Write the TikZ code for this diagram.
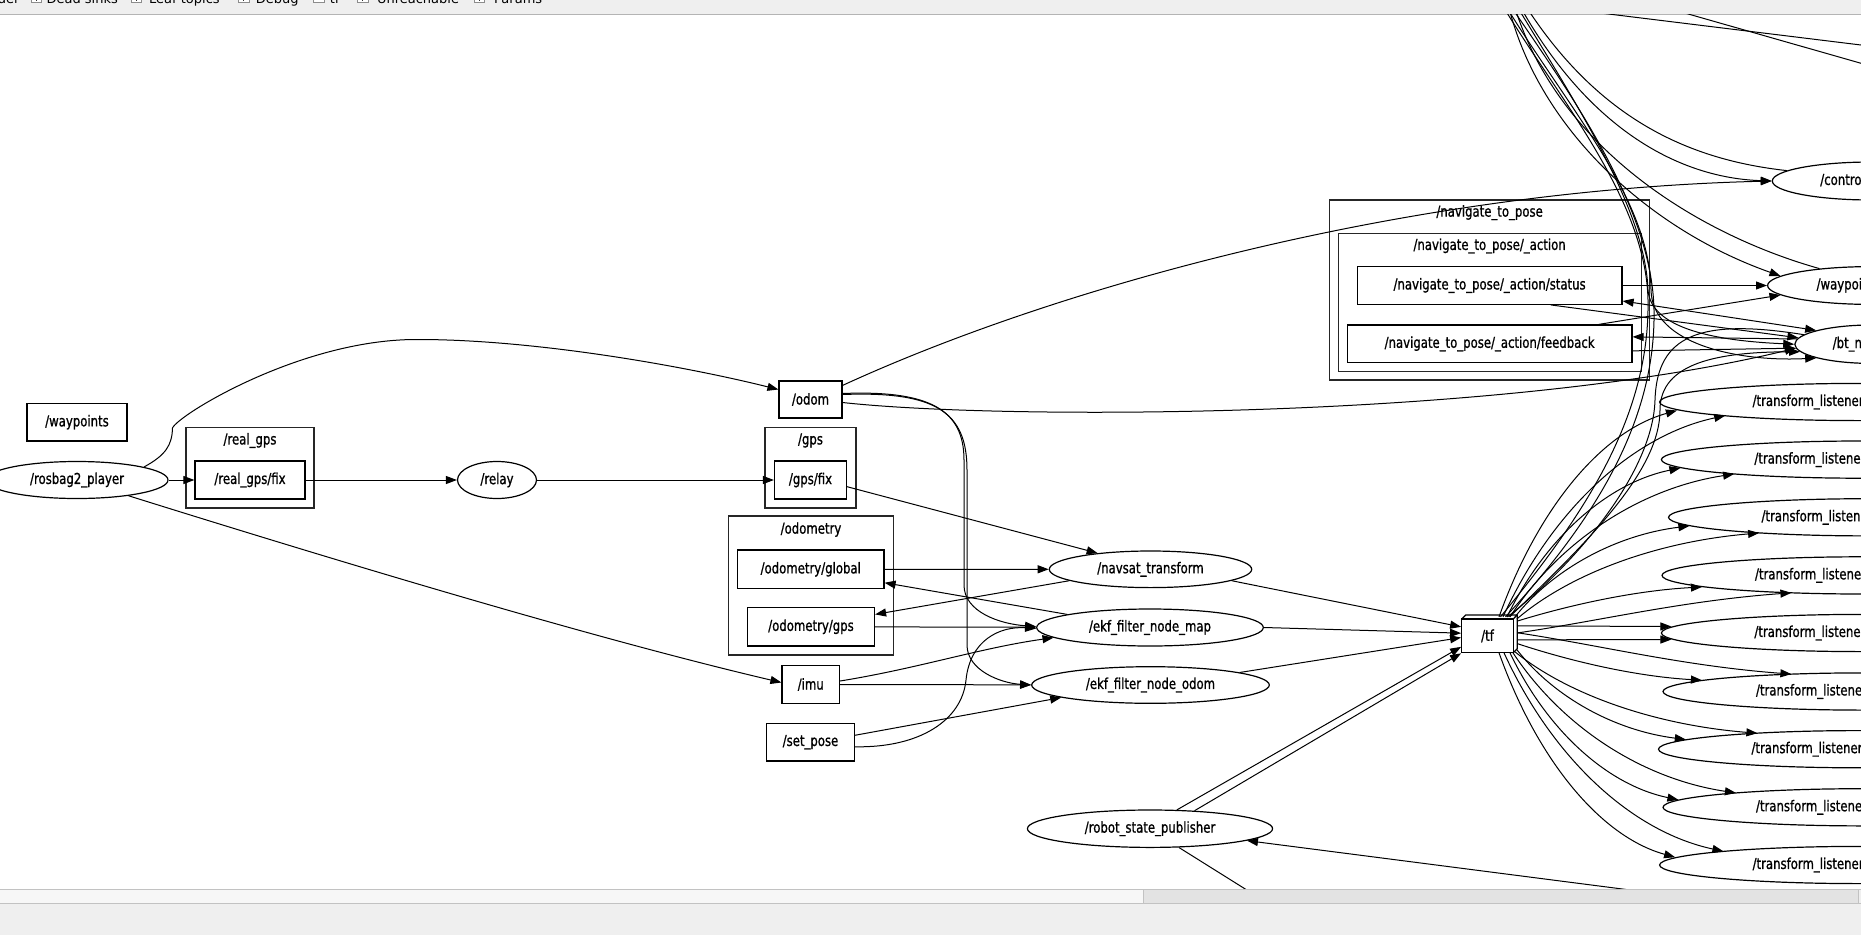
\documentclass[tikz,border=0pt]{standalone}
\usepackage{fontspec}
\setmainfont{DejaVu Sans}[FakeStretch=0.78, FakeBold=1]
\newfontfamily\uifont{DejaVu Sans}
\usetikzlibrary{arrows.meta,shapes.geometric,calc}
\definecolor{barbg}{HTML}{EFEFEF}
\definecolor{barline}{HTML}{B4B4B4}
\definecolor{scrollline}{HTML}{C2C2C2}
\definecolor{scrollhandle}{HTML}{E3E3E3}
\definecolor{scrolltrack}{HTML}{F7F7F7}
\newcommand\fanedge[6]{\draw[arr] let \p1=#1, \p2=#2 in (\p1) .. controls ({\x1+#3*(\x2-\x1)},{\y1+#4*(\y2-\y1)}) and ({\x1+#5*(\x2-\x1)},{\y1+#6*(\y2-\y1)}) .. (\p2);}
\begin{document}
\begin{tikzpicture}[x=1pt,y=-1pt,
  gv/.style={font=\fontsize{15}{17}\selectfont},
  ui/.style={font=\uifont\fontsize{13}{14}\selectfont, inner sep=0pt},
  topic/.style={gv, draw, rectangle, line width=1.2pt, inner sep=0pt, fill=white},
  gnode/.style={gv, draw, ellipse, line width=1.2pt, inner sep=0pt},
  lis/.style={gnode, minimum width=400pt, minimum height=37.2pt},
  clusterbox/.style={draw=black!85, line width=1.2pt},
  clabel/.style={gv, inner sep=0pt},
  conn/.style={line width=1pt},
  arr/.style={conn, -{Triangle[length=11pt,width=8pt]}},
  biarr/.style={conn, {Triangle[length=11pt,width=8pt]}-{Triangle[length=11pt,width=8pt]}},
  cbox/.style={draw=black!45, fill=white, line width=0.8pt},
  cmark/.style={draw=black!80, line width=1.3pt}]
\useasboundingbox (0,0) rectangle (1861,935);
\fill[white] (0,0) rectangle (1861,935);
% ---------- top tool bar ----------
\fill[barbg] (0,0) rectangle (1861,14);
\draw[barline, line width=1pt] (0,14) -- (1861,14);
\begin{scope}
  \clip (0,0) rectangle (1861,13.4);
  \node[ui, anchor=base east] (tbder) at (19.6,3.6) {der};
  \draw[cbox] (31.4,-8) rectangle (41.4,2.3);   \draw[cmark] (36.4,-4) -- (36.4,1);
  \node[ui, anchor=base west] (tbdead) at (46.4,3.6) {Dead sinks};
  \draw[cbox] (131,-8) rectangle (141.8,2.3);   \draw[cmark] (136.4,-4) -- (136.4,1);
  \node[ui, anchor=base west] (tbleaf) at (149,3.6) {Leaf topics};
  \draw[cbox] (238.6,-8) rectangle (249,2.3);   \draw[cmark] (243.8,-4) -- (243.8,1);
  \node[ui, anchor=base west] (tbdebug) at (255.7,3.6) {Debug};
  \draw[cbox] (312.9,-8) rectangle (324,2.3);
  \node[ui, anchor=base west] (tbtf) at (329.6,3.6) {tf};
  \draw[cbox] (357,-8) rectangle (368,2.3);     \draw[cmark] (362.5,-4) -- (362.5,1);
  \node[ui, anchor=base west] (tbunr) at (376.8,3.6) {Unreachable};
  \draw[cbox] (474,-8) rectangle (484.6,2.3);   \draw[cmark] (479.3,-4) -- (479.3,1);
  \node[ui, anchor=base west] (tbparams) at (494,3.6) {Params};
\end{scope}
% ---------- bottom scroll bar ----------
\fill[barbg] (0,889) rectangle (1861,935);
\fill[scrolltrack] (0,889) rectangle (1143,903);
\fill[scrollhandle] (1143,889) rectangle (1858,903);
\draw[scrollline, line width=1pt] (0,889) -- (1861,889);
\draw[scrollline, line width=1pt] (0,903) -- (1861,903);
\draw[scrollline, line width=1pt] (1143,889) -- (1143,903);
\draw[scrollline, line width=1pt] (1858,889) -- (1858,903);
% ---------- graph ----------
\begin{scope}
\clip (0,14.5) rectangle (1861,888.5);
% clusters
\draw[clusterbox] (186,427.5) rectangle (314,508);
\node[clabel] (lblrealgps) at (250,440.5) {/real\_gps};
\draw[clusterbox] (765,427.5) rectangle (856,508);
\node[clabel] (lblgps) at (810.5,440.5) {/gps};
\draw[clusterbox] (728.5,516) rectangle (893.5,655);
\node[clabel] (lblodometry) at (811,529.5) {/odometry};
\draw[clusterbox] (1329.7,200) rectangle (1649.2,380);
\node[clabel] (lblnav) at (1489.6,212.7) {/navigate\_to\_pose};
\draw[clusterbox] (1338.3,233.3) rectangle (1641.7,371.7);
\node[clabel] (lblnavaction) at (1489.6,246) {/navigate\_to\_pose/\_action};
% topics
\node[topic, minimum width=100pt, minimum height=37.5pt] (waypoints) at (77,422.2) {/waypoints};
\node[topic, minimum width=110pt, minimum height=38pt] (realfix) at (250,480) {/real\_gps/fix};
\node[topic, minimum width=63pt, minimum height=37pt] (odom) at (810.5,399.5) {/odom};
\node[topic, minimum width=72pt, minimum height=38pt] (gpsfix) at (810.5,480) {/gps/fix};
\node[topic, minimum width=146.5pt, minimum height=38.5pt] (odomglobal) at (810.75,569.25) {/odometry/global};
\node[topic, minimum width=127pt, minimum height=38.5pt] (odomgps) at (811,626.75) {/odometry/gps};
\node[topic, minimum width=57.5pt, minimum height=38pt] (imu) at (810.75,684.5) {/imu};
\node[topic, minimum width=88pt, minimum height=37.5pt] (setpose) at (810.5,742.25) {/set\_pose};
\node[topic, minimum width=264.8pt, minimum height=37.6pt] (status) at (1489.6,285.5) {/navigate\_to\_pose/\_action/status};
\node[topic, minimum width=284.8pt, minimum height=37.7pt] (feedback) at (1489.6,343.85) {/navigate\_to\_pose/\_action/feedback};
% tf (3d box)
\filldraw[fill=white, line width=1.2pt] (1461.7,619) -- (1465.7,615) -- (1517.3,615) -- (1517.3,648.7) -- (1513.3,652.7) -- cycle;
\node[topic, minimum width=51.6pt, minimum height=33.7pt] (tf) at (1487.5,635.85) {/tf};
\draw[line width=1.2pt] (1513.3,619) -- (1517.3,615);
% nodes (ellipses)
\node[gnode, minimum width=182pt, minimum height=37pt] (rosbag) at (77,480) {/rosbag2\_player};
\node[gnode, minimum width=79pt, minimum height=37pt] (relay) at (497,480) {/relay};
\node[gnode, minimum width=202.4pt, minimum height=36.6pt] (navsat) at (1150.5,569.3) {/navsat\_transform};
\node[gnode, minimum width=226.6pt, minimum height=37pt] (ekfmap) at (1150,627.5) {/ekf\_filter\_node\_map};
\node[gnode, minimum width=237.6pt, minimum height=36.6pt] (ekfodom) at (1150.5,685) {/ekf\_filter\_node\_odom};
\node[gnode, minimum width=245.2pt, minimum height=37.4pt] (rsp) at (1150,828.7) {/robot\_state\_publisher};
\node[gnode, minimum width=198.6pt, minimum height=38pt] (ctrl) at (1871.6,181) {/controller\_server};
\node[gnode, minimum width=207.8pt, minimum height=37.8pt] (wpf) at (1871.5,285.5) {/waypoint\_follower};
\node[gnode, minimum width=153.6pt, minimum height=38.4pt] (bt) at (1871.6,344.2) {/bt\_navigator};
\node[lis] (lis1) at (1859.6,402) {\makebox[214pt][l]{/transform\_listener}};
\node[lis] (lis2) at (1861.4,459.6) {\makebox[214pt][l]{/transform\_listener}};
\node[lis] (lis3) at (1868.5,517.3) {\makebox[214pt][l]{/transform\_listener}};
\node[lis] (lis4) at (1862,575.4) {\makebox[214pt][l]{/transform\_listener}};
\node[lis] (lis5) at (1861.4,633) {\makebox[214pt][l]{/transform\_listener}};
\node[lis] (lis6) at (1863,691.5) {\makebox[214pt][l]{/transform\_listener}};
\node[lis] (lis7) at (1858.5,749.2) {\makebox[214pt][l]{/transform\_listener}};
\node[lis] (lis8) at (1863,807.3) {\makebox[214pt][l]{/transform\_listener}};
\node[lis] (lis9) at (1859.6,865) {\makebox[214pt][l]{/transform\_listener}};
% off-screen ends
\coordinate (topA) at (1527,8);
\coordinate (topB) at (1521,8);
\coordinate (topC) at (1509,8);
\coordinate (topD) at (1515,8);
\coordinate (topE) at (1504,8);
\coordinate (topF) at (1512,8);
\coordinate (topG) at (1507,8);
\coordinate (topH) at (1518,8);
\coordinate (offT1a) at (1576,10);
\coordinate (offT1b) at (1900,49.8);
\coordinate (offT2a) at (1674.2,10);
\coordinate (offT2b) at (1900,74.4);
\coordinate (offrsp1) at (1262,899.5);
\coordinate (offrsp2) at (1700,899);
% ---------- edges, left part ----------
\draw[arr] (rosbag) -- (realfix);
\draw[arr] (realfix) -- (relay);
\draw[arr] (relay) -- (gpsfix);
\draw[arr] (rosbag.11) .. controls (166,455) and (172,445) .. (172.5,428) .. controls (178,415) and (300,340) .. (415,339.5) .. controls (530,339) and (680,365) .. ([yshift=10pt]odom.west);
\draw[arr] (rosbag.-17.4) .. controls (350,565) and (600,640) .. ([yshift=2pt]imu.west);
\draw[arr] ([yshift=-5pt]odom.north east) .. controls (1050,290) and (1400,190) .. (ctrl.west);
\draw[arr] ([yshift=-3pt]odom.east) .. controls (1000,420) and (1500,420) .. (bt.183.5);
\draw[arr] ([yshift=6pt]odom.east) .. controls (930,390) and (964,410) .. (964,460) -- (964,585) .. controls (964,612) and (1000,624) .. ([yshift=1pt]ekfmap.west);
\draw[arr] ([yshift=5pt]odom.east) .. controls (936,391) and (967,412) .. (967,470) -- (967,645) .. controls (967,670) and (1000,683) .. (ekfodom.west);
\draw[arr] ([yshift=-6.7pt]gpsfix.east) -- (navsat.163.3);
\draw[arr] (odomglobal) -- (navsat);
\draw[arr] (navsat.188.3) -- ([yshift=-7.5pt]odomgps.north east);
\draw[arr] (ekfmap.171.2) -- ([yshift=-13.5pt]odomglobal.east);
\draw[arr] (odomgps) -- (ekfmap);
\draw[arr] ([yshift=3.5pt]imu.east) .. controls (920,668) and (980,648) .. (ekfmap.186.6);
\draw[arr] (imu) -- (ekfodom);
\draw[arr] ([yshift=7pt]setpose.east) -- (ekfodom.188.8);
\draw[arr] ([yshift=-4.5pt]setpose.east) .. controls (920,748) and (962,720) .. (966,680) .. controls (970,640) and (1000,626) .. ([yshift=-1pt]ekfmap.west);
\draw[arr] (navsat.-8.1) -- ([yshift=9pt]tf.west);
\draw[arr] (ekfmap.east) -- ([yshift=2.7pt]tf.west);
\draw[arr] (ekfodom.8) -- ([yshift=-1.7pt]tf.west);
\draw[arr] (rsp.35.7) -- ([yshift=-11pt]tf.west);
\draw[arr] (rsp.22.7) -- (tf.south west);
\draw[conn] (rsp.-33) -- (offrsp1);
\draw[arr] (offrsp2) -- (rsp.-7.8);
% ---------- edges, navigate_to_pose ----------
\draw[arr] (status) -- (wpf);
\draw[biarr] ([yshift=-15.5pt]status.east) -- (bt.166.5);
\draw[arr] ([xshift=61pt]status.south) -- (bt.175);
\draw[arr] ([xshift=109pt]feedback.north) -- (wpf.186.4);
\draw[arr] (bt.176.5) -- ([yshift=7pt]feedback.east);
\draw[arr] ([yshift=-7pt]feedback.east) -- (bt.183.5);
% ---------- bundle to the top ----------
\draw[conn] (ctrl.173.6) .. controls (1690,160) and (1600,120) .. (topA);
\draw[arr] (topB) .. controls (1590,130) and (1680,178) .. (ctrl.west);
\draw[arr] (topC) .. controls (1540,130) and (1650,230) .. (wpf.174.6);
\draw[conn] (wpf.162.3) .. controls (1700,235) and (1560,150) .. (topD);
\draw[conn] ([xshift=13pt,yshift=19pt]tf.center) .. controls (1580,520) and (1650,420) .. (1648,300) .. controls (1646,200) and (1560,100) .. (topE);
\draw[conn] ([xshift=18pt,yshift=19pt]tf.center) .. controls (1590,525) and (1656,425) .. (1654,310) .. controls (1652,210) and (1575,100) .. (topF);
\draw[arr] (topG) .. controls (1570,110) and (1650,200) .. (1651,290) .. controls (1652,345) and (1740,362) .. (bt.194.7);
\draw[arr] (topH) .. controls (1580,110) and (1645,210) .. (1648,290) .. controls (1651,330) and (1720,341) .. (bt.west);
\draw[conn] (bt.172) .. controls (1700,318) and (1657,335) .. (1655,400) .. controls (1653,470) and (1580,560) .. ([xshift=20pt,yshift=19pt]tf.center);
\draw[arr] ([xshift=22pt,yshift=19pt]tf.center) .. controls (1590,540) and (1660,470) .. (1660,410) .. controls (1660,362) and (1720,352) .. (bt.186);
\draw[conn] (offT1a) -- (offT1b);
\draw[conn] (offT2a) -- (offT2b);
% ---------- tf to the transform listeners ----------
\fanedge{([xshift=11.5pt,yshift=19pt]tf.center)}{([xshift=17.9pt,yshift=-8.5pt]lis1.west)}{0.22}{0.53}{0.58}{0.9}
\fanedge{([xshift=15.5pt,yshift=19pt]tf.center)}{([xshift=66.2pt,yshift=-13.6pt]lis1.west)}{0.22}{0.53}{0.58}{0.9}
\fanedge{([xshift=19.5pt,yshift=19pt]tf.center)}{([xshift=19.6pt,yshift=-8.4pt]lis2.west)}{0.22}{0.53}{0.58}{0.9}
\fanedge{([xshift=22.5pt,yshift=19pt]tf.center)}{([xshift=73.3pt,yshift=-14.4pt]lis2.west)}{0.22}{0.53}{0.58}{0.9}
\fanedge{([xshift=27.5pt,yshift=19pt]tf.center)}{([xshift=21.5pt,yshift=-8.6pt]lis3.west)}{0.22}{0.53}{0.58}{0.9}
\fanedge{([xshift=29.5pt,yshift=17pt]tf.center)}{([xshift=91.2pt,yshift=-15.7pt]lis3.west)}{0.22}{0.53}{0.58}{0.9}
\fanedge{([xshift=30.5pt,yshift=15pt]tf.center)}{([xshift=40.5pt,yshift=-11.6pt]lis4.west)}{0.3}{0.5}{0.65}{0.9}
\fanedge{([xshift=30.5pt,yshift=3pt]tf.center)}{([xshift=130pt,yshift=-17.4pt]lis4.west)}{0.3}{0.3}{0.6}{0.8}
\draw[arr] ([xshift=30.5pt,yshift=10pt]tf.center) -- ([xshift=10.6pt,yshift=6.5pt]lis5.west);
\draw[arr] ([xshift=30.5pt,yshift=-4pt]tf.center) -- ([xshift=10.6pt,yshift=-6.5pt]lis5.west);
\fanedge{([xshift=30.5pt,yshift=-8pt]tf.center)}{([xshift=39.5pt,yshift=11.3pt]lis6.west)}{0.3}{0.5}{0.65}{0.9}
\fanedge{([xshift=30.5pt,yshift=3pt]tf.center)}{([xshift=129pt,yshift=17.4pt]lis6.west)}{0.3}{0.3}{0.6}{0.8}
\fanedge{([xshift=29.5pt,yshift=-14pt]tf.center)}{([xshift=27.9pt,yshift=9.7pt]lis7.west)}{0.22}{0.53}{0.58}{0.9}
\fanedge{([xshift=27.5pt,yshift=-16pt]tf.center)}{([xshift=99.5pt,yshift=16pt]lis7.west)}{0.22}{0.53}{0.58}{0.9}
\fanedge{([xshift=22.5pt,yshift=-17pt]tf.center)}{([xshift=16pt,yshift=7.5pt]lis8.west)}{0.22}{0.53}{0.58}{0.9}
\fanedge{([xshift=25.5pt,yshift=-17pt]tf.center)}{([xshift=73.5pt,yshift=14.4pt]lis8.west)}{0.22}{0.53}{0.58}{0.9}
\fanedge{([xshift=11.5pt,yshift=-17pt]tf.center)}{([xshift=16.1pt,yshift=7.8pt]lis9.west)}{0.22}{0.53}{0.58}{0.9}
\fanedge{([xshift=16.5pt,yshift=-17pt]tf.center)}{([xshift=64.4pt,yshift=13.7pt]lis9.west)}{0.22}{0.53}{0.58}{0.9}
\end{scope}
\end{tikzpicture}
\end{document}
